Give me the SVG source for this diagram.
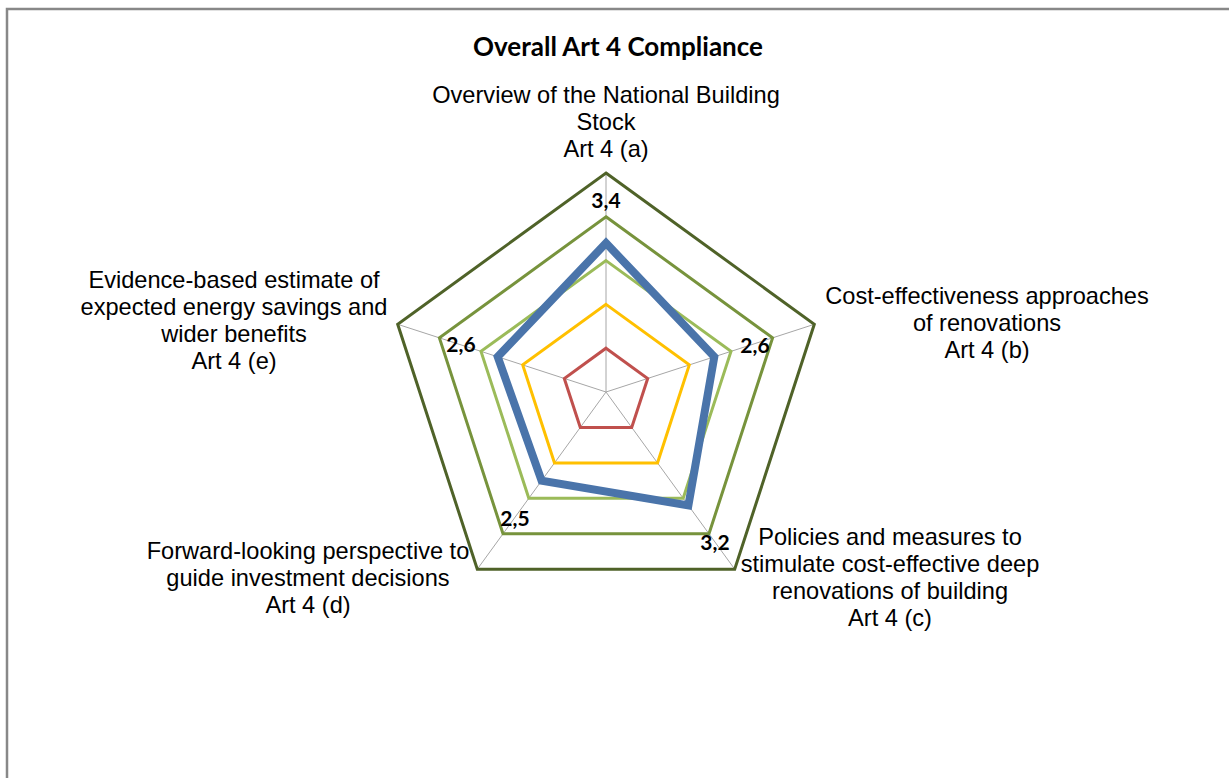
<svg xmlns="http://www.w3.org/2000/svg" width="1229" height="778" viewBox="0 0 1229 778">
<style>
.lbl{font-family:"Liberation Sans",Arial,sans-serif;font-size:23.6px;fill:#000;text-anchor:middle}
.title{font-family:Lato,"Liberation Sans",sans-serif;font-size:26px;font-weight:bold;fill:#000;text-anchor:middle}
.dl{font-family:Lato,"Liberation Sans",sans-serif;font-size:21px;font-weight:bold;fill:#000;text-anchor:middle}
.ring{fill:none;stroke-width:3;stroke-linejoin:miter}
.spoke{stroke:#a6a6a6;stroke-width:1}
</style>
<rect x="0" y="0" width="1229" height="778" fill="#fff"/>
<path d="M7,790 V9 H1240" fill="none" stroke="#888" stroke-width="2.5"/>
<text class="title" x="618" y="56">Overall Art 4 Compliance</text>
<g id="spokes">
<line class="spoke" x1="606" y1="392" x2="606" y2="173"/>
<line class="spoke" x1="606" y1="392" x2="814.3" y2="324.3"/>
<line class="spoke" x1="606" y1="392" x2="734.7" y2="569.2"/>
<line class="spoke" x1="606" y1="392" x2="477.3" y2="569.2"/>
<line class="spoke" x1="606" y1="392" x2="397.7" y2="324.3"/>
</g>
<g id="rings">
<polygon class="ring" stroke="#4f6228" points="606,173 814.3,324.3 734.7,569.2 477.3,569.2 397.7,324.3"/>
<polygon class="ring" stroke="#77933c" points="606,216.8 772.6,337.9 709,533.7 503,533.7 439.4,337.9"/>
<polygon class="ring" stroke="#9bbb59" points="606,260.6 731,351.4 683.2,498.3 528.8,498.3 481,351.4"/>
<polygon class="ring" stroke="#ffc000" points="606,304.4 689.3,364.9 657.5,462.9 554.5,462.9 522.7,364.9"/>
<polygon class="ring" stroke="#c0504d" points="606,348.2 647.7,378.5 631.7,427.4 580.3,427.4 564.3,378.5"/>
</g>
<g id="data">
<polygon fill="none" stroke="#4a74aa" stroke-width="8" stroke-linejoin="miter" points="606,243.1 714.3,356.8 688.4,505.4 541.6,480.6 497.7,356.8"/>
</g>
<g id="data-labels">
<text class="dl" x="606" y="208">3,4</text>
<text class="dl" x="755" y="353">2,6</text>
<text class="dl" x="715" y="550">3,2</text>
<text class="dl" x="515" y="526">2,5</text>
<text class="dl" x="461" y="352">2,6</text>
</g>
<g id="axis-a">
<text class="lbl" x="606" y="103">Overview of the National Building</text>
<text class="lbl" x="606" y="130">Stock</text>
<text class="lbl" x="606" y="157">Art 4 (a)</text>
</g>
<g id="axis-b">
<text class="lbl" x="987" y="304">Cost-effectiveness approaches</text>
<text class="lbl" x="987" y="331">of renovations</text>
<text class="lbl" x="987" y="358">Art 4 (b)</text>
</g>
<g id="axis-c">
<text class="lbl" x="890" y="545">Policies and measures to</text>
<text class="lbl" x="890" y="572">stimulate cost-effective deep</text>
<text class="lbl" x="890" y="599">renovations of building</text>
<text class="lbl" x="890" y="626">Art 4 (c)</text>
</g>
<g id="axis-d">
<text class="lbl" x="308" y="559">Forward-looking perspective to</text>
<text class="lbl" x="308" y="586">guide investment decisions</text>
<text class="lbl" x="308" y="613">Art 4 (d)</text>
</g>
<g id="axis-e">
<text class="lbl" x="234" y="288">Evidence-based estimate of</text>
<text class="lbl" x="234" y="315">expected energy savings and</text>
<text class="lbl" x="234" y="342">wider benefits</text>
<text class="lbl" x="234" y="369">Art 4 (e)</text>
</g>
</svg>
